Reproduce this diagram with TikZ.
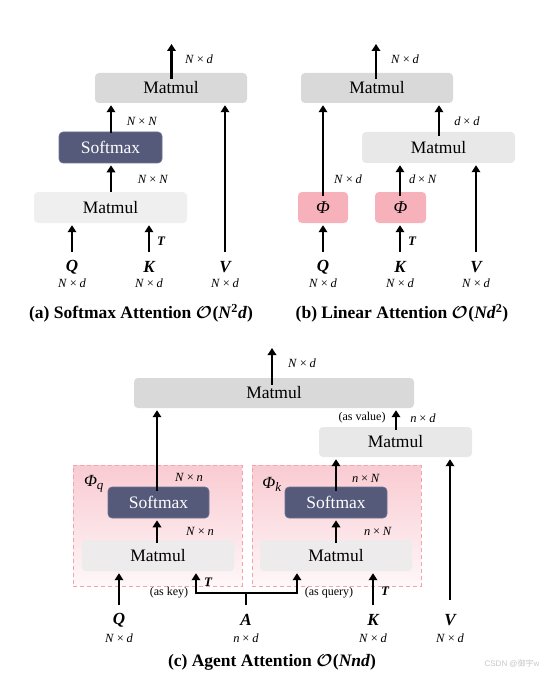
\documentclass[tikz,border=0pt]{standalone}
\usepackage{amsmath}
\usepackage{bm}
\usepackage{fontspec}
\setmainfont{Liberation Serif}
\newfontfamily\cjkfont{Noto Sans CJK SC}
\newfontfamily\wmsans{Liberation Sans}
\usetikzlibrary{arrows.meta}
\definecolor{mmdark}{HTML}{D9D9D9}
\definecolor{mmlight}{HTML}{EFEFEF}
\definecolor{mmmid}{HTML}{E8E8E8}
\definecolor{mminner}{HTML}{EDEBEC}
\definecolor{smfill}{HTML}{555A7B}
\definecolor{smdraw}{HTML}{6E7294}
\definecolor{phifill}{HTML}{F7B1BA}
\definecolor{dashcol}{HTML}{F3A3AE}
\definecolor{gradtop}{HTML}{F9CBD2}
\definecolor{gradbot}{HTML}{FEF7F8}
\definecolor{wmark}{HTML}{C8C8C8}
\tikzset{
  opbox/.style={rectangle, rounded corners=4pt, inner sep=0pt, font=\fontsize{17.5}{20}\selectfont},
  mmd/.style={opbox, fill=mmdark},
  mml/.style={opbox, fill=mmlight},
  mmm/.style={opbox, fill=mmmid},
  mmi/.style={opbox, fill=mminner},
  smx/.style={opbox, fill=smfill, draw=smdraw, line width=0.6pt, text=white},
  phib/.style={opbox, fill=phifill, font=\fontsize{18}{20}\selectfont\itshape},
  arr/.style={line width=2.5pt, -{Triangle[width=8.5pt,length=7pt]}, shorten >=2pt},
  wire/.style={line width=2.5pt},
  dim/.style={inner sep=0pt, font=\fontsize{12.5}{14}\selectfont},
  inlab/.style={inner sep=0pt, font=\fontsize{17}{19}\selectfont\bfseries\itshape},
  tlab/.style={inner sep=0pt, font=\fontsize{13}{15}\selectfont\bfseries\itshape},
  captxt/.style={inner sep=0pt, font=\fontsize{17.5}{20}\selectfont\bfseries},
  side/.style={inner sep=0pt, font=\fontsize{12}{14}\selectfont},
  philab/.style={inner sep=0pt, font=\fontsize{17}{19}\selectfont\itshape},
  phiarea/.style={rectangle, draw=dashcol, line width=0.8pt, dash pattern=on 4pt off 3pt, top color=gradtop, bottom color=gradbot},
}
\newcommand{\dm}[2]{\textit{#1}\hspace{0.22em}×\hspace{0.22em}\textit{#2}}
\newcommand{\bo}{$\bm{\mathcal{O}}$\kern0.5pt}
\newcommand{\bi}[1]{\textbf{\textit{#1}}}
\begin{document}
\begin{tikzpicture}[x=1pt,y=-1pt]
\useasboundingbox[fill=white] (0,0) rectangle (548,679);

% ================= (a) Softmax Attention =================
\node[mmd, minimum width=152pt, minimum height=30pt] (aTop) at (171,88) {Matmul};
\node[smx, minimum width=103pt, minimum height=31pt] (aSm) at (110.5,147.5) {Softmax};
\node[mml, minimum width=153pt, minimum height=31pt] (aMm) at (110.5,207.5) {Matmul};
\node[inlab] (aQ) at (72,267) {Q};
\node[inlab] (aK) at (149,267) {K};
\node[inlab] (aV) at (225,267) {V};
\node[dim] (aQd) at (72,283) {\dm{N}{d}};
\node[dim] (aKd) at (149,283) {\dm{N}{d}};
\node[dim] (aVd) at (225,283) {\dm{N}{d}};
\coordinate (aQs) at (72,252);
\coordinate (aKs) at (149,252);
\coordinate (aVs) at (225,252);
\coordinate (aOut) at (171.5,42);
\draw[arr] (aQs) -- (aQs |- aMm.south);
\draw[arr] (aKs) -- (aKs |- aMm.south);
\draw[arr] (aVs) -- (aVs |- aTop.south);
\draw[arr] (aMm.north -| 111,0) -- (aSm.south -| 111,0);
\draw[arr] ([yshift=-1pt]aSm.north -| 111,0) -- (aTop.south -| 111,0);
\draw[arr] ([yshift=-6pt]aTop.north -| aOut) -- (aOut);
\node[tlab] at (161,241) {T};
\node[dim] at (153,179) {\dm{N}{N}};
\node[dim] at (142,121) {\dm{N}{N}};
\node[dim] at (199,59) {\dm{N}{d}};
\node[captxt] (aCap) at (141,313) {(a) Softmax Attention \bo(\bi{N}\textsuperscript{2}\bi{d})};

% ================= (b) Linear Attention =================
\node[mmd, minimum width=152pt, minimum height=30pt] (bTop) at (377,88) {Matmul};
\node[mmm, minimum width=153pt, minimum height=31pt] (bMm) at (438.5,147.5) {Matmul};
\node[phib, minimum width=50pt, minimum height=31pt] (bPq) at (323,207.5) {Φ};
\node[phib, minimum width=51pt, minimum height=31pt] (bPk) at (400.5,207.5) {Φ};
\node[inlab] (bQ) at (323,267) {Q};
\node[inlab] (bK) at (400,267) {K};
\node[inlab] (bV) at (476,267) {V};
\node[dim] (bQd) at (323,283) {\dm{N}{d}};
\node[dim] (bKd) at (400,283) {\dm{N}{d}};
\node[dim] (bVd) at (476,283) {\dm{N}{d}};
\coordinate (bQs) at (323,252);
\coordinate (bKs) at (400,252);
\coordinate (bVs) at (476,252);
\coordinate (bOut) at (376,42);
\draw[arr] (bQs) -- (bQs |- bPq.south);
\draw[arr] (bKs) -- (bKs |- bPk.south);
\draw[arr] (bVs) -- (bVs |- bMm.south);
\draw[arr] ([yshift=-4pt]bPq.north -| 323,0) -- (bTop.south -| 323,0);
\draw[arr] ([yshift=-4pt]bPk.north -| 400,0) -- (bMm.south -| 400,0);
\draw[arr] ([yshift=-4pt]bMm.north -| 439,0) -- (bTop.south -| 439,0);
\draw[arr] ([yshift=-6pt]bTop.north -| bOut) -- (bOut);
\node[tlab] at (412,241) {T};
\node[dim] at (348,179) {\dm{N}{d}};
\node[dim] at (423,179) {\dm{d}{N}};
\node[dim] at (467,121) {\dm{d}{d}};
\node[dim] at (405,59) {\dm{N}{d}};
\node[captxt] (bCap) at (402,313) {(b) Linear Attention \bo(\bi{Nd}\textsuperscript{2})};

% ================= (c) Agent Attention =================
\node[phiarea, minimum width=169pt, minimum height=121pt, inner sep=0pt] (cPq) at (157.5,525.5) {};
\node[phiarea, minimum width=169pt, minimum height=121pt, inner sep=0pt] (cPk) at (336.5,525.5) {};
\node[philab] (cPqLab) at (94,484) {Φ\textsubscript{\fontsize{13}{15}\selectfont q}};
\node[philab] (cPkLab) at (272,484) {Φ\textsubscript{\fontsize{13}{15}\selectfont k}};
\node[mmd, minimum width=280pt, minimum height=30pt] (cTop) at (274,393) {Matmul};
\node[mmm, minimum width=153pt, minimum height=30pt] (cMm2) at (395.5,442) {Matmul};
\node[smx, minimum width=101pt, minimum height=31pt] (cSmq) at (158.5,502.5) {Softmax};
\node[smx, minimum width=102pt, minimum height=31pt] (cSmk) at (336,502.5) {Softmax};
\node[mmi, minimum width=152pt, minimum height=31pt] (cMmq) at (158,555.5) {Matmul};
\node[mmi, minimum width=152pt, minimum height=31pt] (cMmk) at (336,555.5) {Matmul};
\node[inlab] (cQ) at (119,620) {Q};
\node[inlab] (cA) at (246,620) {A};
\node[inlab] (cK) at (373,620) {K};
\node[inlab] (cV) at (450,620) {V};
\node[dim] (cQd) at (119,638) {\dm{N}{d}};
\node[dim] (cAd) at (246,638) {\dm{n}{d}};
\node[dim] (cKd) at (373,638) {\dm{N}{d}};
\node[dim] (cVd) at (450,638) {\dm{N}{d}};
\coordinate (cQs) at (119,605);
\coordinate (cKs) at (373,605);
\coordinate (cVs) at (450,600);
\coordinate (cAs) at (246,605);
\coordinate (cJ) at (246,593);
\coordinate (cJl) at (196,593);
\coordinate (cJr) at (297,593);
\coordinate (cOut) at (272,346);
\draw[arr] (cQs) -- (cQs |- cMmq.south);
\draw[arr] (cKs) -- (cKs |- cMmk.south);
\draw[arr] (cVs) -- (cVs |- cMm2.south);
\draw[wire] (cAs) -- (cJ);
\draw[wire] (cJl) -- (cJr);
\draw[arr] ([yshift=-1.25pt]cJl) -- (cJl |- cMmq.south);
\draw[arr] ([yshift=-1.25pt]cJr) -- (cJr |- cMmk.south);
\draw[arr] ([yshift=-3pt]cMmq.north -| 157,0) -- (cSmq.south -| 157,0);
\draw[arr] ([yshift=-4pt]cSmq.north -| 157,0) -- (cTop.south -| 157,0);
\draw[arr] ([yshift=-3pt]cMmk.north -| 336,0) -- (cSmk.south -| 336,0);
\draw[arr] ([yshift=-4pt]cSmk.north -| 336,0) -- (cMm2.south -| 336,0);
\draw[arr] ([yshift=-3pt]cMm2.north -| 396,0) -- (cTop.south -| 396,0);
\draw[arr] ([yshift=-7pt]cTop.north -| cOut) -- (cOut);
\node[tlab] at (208,582) {T};
\node[tlab] at (385,591) {T};
\node[side] at (169,593) {(as key)};
\node[side] at (329,593) {(as query)};
\node[side] at (362,418) {(as value)};
\node[dim] at (423,418) {\dm{n}{d}};
\node[dim] at (189,477) {\dm{N}{n}};
\node[dim] at (200,531) {\dm{N}{n}};
\node[dim] at (366,478) {\dm{n}{N}};
\node[dim] at (378,531) {\dm{n}{N}};
\node[dim] at (302,363) {\dm{N}{d}};
\node[captxt] (cCap) at (272,662) {(c) Agent Attention \bo(\bi{Nnd})};
\node[inner sep=0pt, text=wmark, font=\fontsize{8}{9}\selectfont] (wm) at (512,664) {\wmsans CSDN @\cjkfont 御宇\wmsans w};
\end{tikzpicture}
\end{document}
